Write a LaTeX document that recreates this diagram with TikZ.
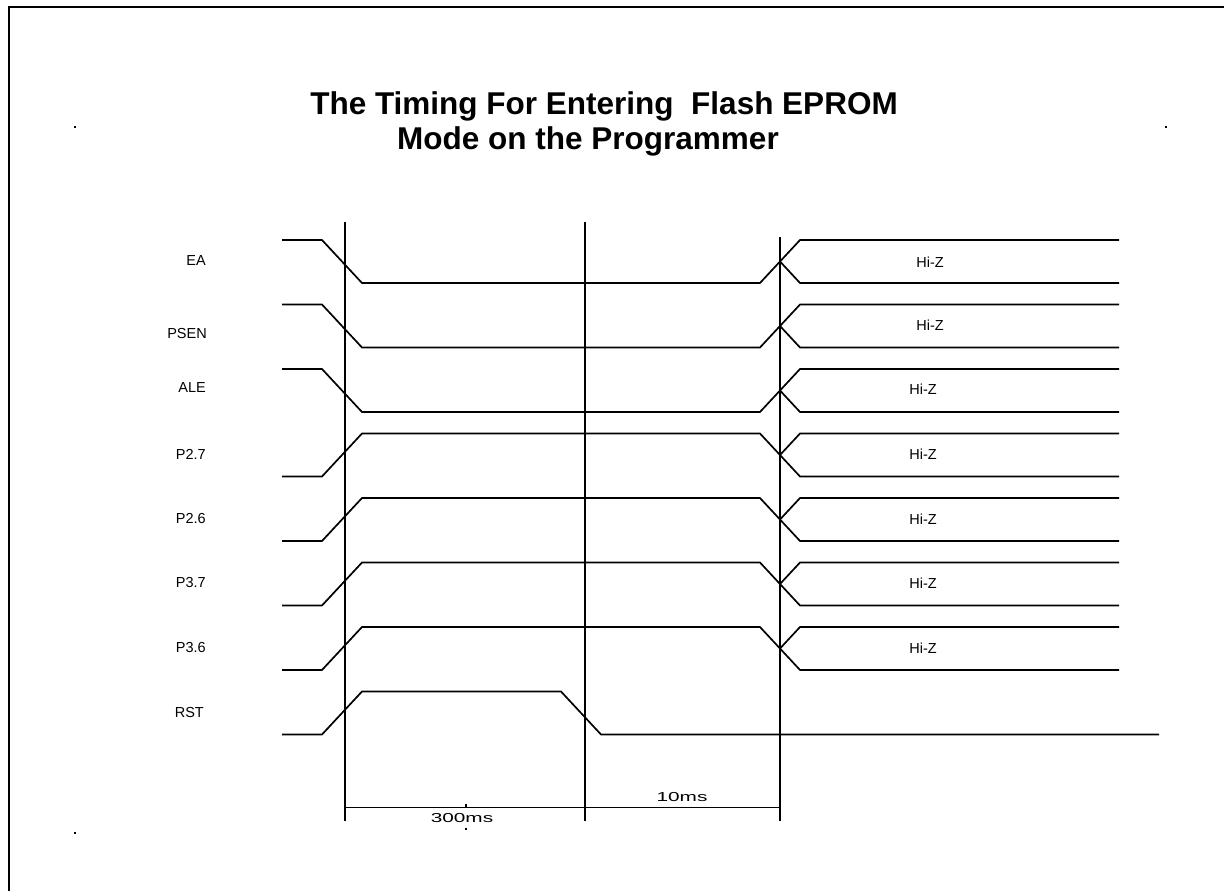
\documentclass[tikz,border=0pt]{standalone}
\usepackage{fontspec}
\setmainfont{Liberation Sans}
\begin{document}
\begin{tikzpicture}[x=1pt,y=-1pt,
  sig/.style={line width=1.7pt, line join=miter},
  marker/.style={line width=1.9pt},
  dimline/.style={line width=1pt},
  lbl/.style={inner sep=0pt, anchor=east, font=\fontsize{14.5}{16}\selectfont},
  hiz/.style={inner sep=0pt, font=\fontsize{14.5}{16}\selectfont},
  ttl/.style={inner sep=0pt, anchor=base, font=\fontsize{31.5}{34}\selectfont\bfseries},
  dim/.style={inner sep=0pt, font=\fontsize{13}{15}\selectfont}]
\useasboundingbox (0,0) rectangle (1224,891);
\fill[white] (0,0) rectangle (1224,891);
% frame
\draw[line width=2.5pt] (9,895) -- (9,7) -- (1230,7);
% corner dots
\fill (74,126) rectangle (76,128);
\fill (1165,126) rectangle (1167,128);
\fill (74,832) rectangle (76,834);
% title
\node[ttl] (t1) at (604,114) {The Timing For Entering \ Flash EPROM};
\node[ttl] (t2) at (588,149) {Mode on the Programmer};
% labels
\node[lbl] (lEA) at (206,261) {EA};
\node[lbl] (lPSEN) at (207,334) {PSEN};
\node[lbl] (lALE) at (206,388) {ALE};
\node[lbl] (lP27) at (206,454) {P2.7};
\node[lbl] (lP26) at (206,519) {P2.6};
\node[lbl] (lP37) at (206,583) {P3.7};
\node[lbl] (lP36) at (206,648) {P3.6};
\node[lbl] (lRST) at (204,713) {RST};
% falling-then-Hi-Z rows (EA, PSEN, ALE)
\foreach \k in {0,1,2}{
  \pgfmathsetmacro{\h}{240+64.5*\k}
  \pgfmathsetmacro{\l}{\h+43}
  \pgfmathsetmacro{\m}{\h+21.5}
  \draw[sig] (282,\h) -- (322,\h) -- (362,\l) -- (760,\l) -- (800,\h) -- (1119,\h);
  \draw[sig] (780,\m) -- (800,\l) -- (1119,\l);
}
% rising-then-Hi-Z rows (P2.7, P2.6, P3.7, P3.6)
\foreach \k in {3,4,5,6}{
  \pgfmathsetmacro{\h}{240+64.5*\k}
  \pgfmathsetmacro{\l}{\h+43}
  \pgfmathsetmacro{\m}{\h+21.5}
  \draw[sig] (282,\l) -- (322,\l) -- (362,\h) -- (760,\h) -- (800,\l) -- (1119,\l);
  \draw[sig] (780,\m) -- (800,\h) -- (1119,\h);
}
% RST
\draw[sig] (282,734.5) -- (322,734.5) -- (362,691.5) -- (561,691.5) -- (601,734.5) -- (1159,734.5);
% Hi-Z labels
\node[hiz] (z1) at (930,262) {Hi-Z};
\node[hiz] (z2) at (930,325) {Hi-Z};
\node[hiz] (z3) at (923,389) {Hi-Z};
\node[hiz] (z4) at (923,454) {Hi-Z};
\node[hiz] (z5) at (923,519) {Hi-Z};
\node[hiz] (z6) at (923,583) {Hi-Z};
\node[hiz] (z7) at (923,648) {Hi-Z};
% time markers
\coordinate (v1t) at (345,222); \coordinate (v1b) at (345,821);
\coordinate (v2t) at (585,222); \coordinate (v2b) at (585,821);
\coordinate (v3t) at (780,237); \coordinate (v3b) at (780,821);
\draw[marker] (v1t) -- (v1b);
\draw[marker] (v2t) -- (v2b);
\draw[marker] (v3t) -- (v3b);
% dimension
\coordinate (d1) at (345,807); \coordinate (d2) at (780,807);
\draw[dimline] (d1) -- (d2);
\draw[line width=1.2pt] (466,804) -- (466,808);
\draw[line width=1.2pt] (465,829) -- (467,829);
\node[dim] (ms300) at (462,818) {\scalebox{1.6}[1]{300ms}};
\node[dim] (ms10) at (682,797) {\scalebox{1.6}[1]{10ms}};
\end{tikzpicture}
\end{document}
